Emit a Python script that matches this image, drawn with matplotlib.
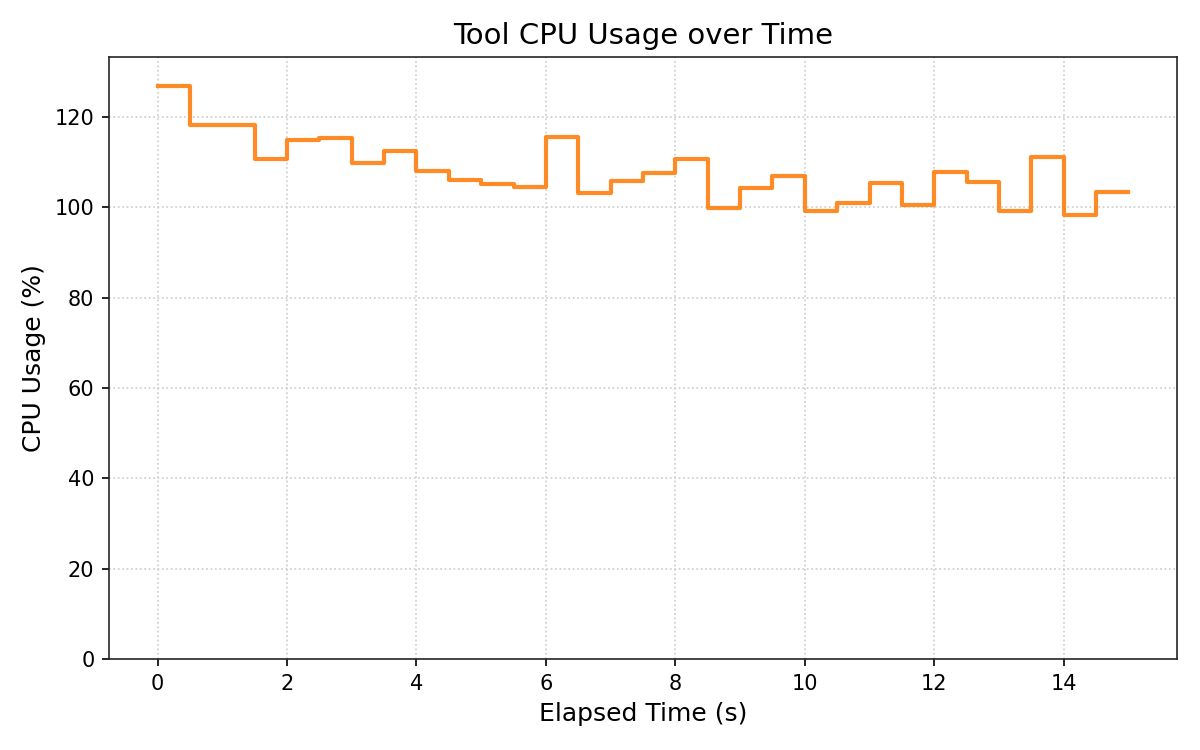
import matplotlib
matplotlib.use("Agg")
import matplotlib.pyplot as plt
import numpy as np

elapsed_s = [0.0, 0.5, 1.0, 1.5, 2.0, 2.5, 3.0, 3.5, 4.0, 4.5, 5.0, 5.5, 6.0, 6.5, 7.0,
             7.5, 8.0, 8.5, 9.0, 9.5, 10.0, 10.5, 11.0, 11.5, 12.0, 12.5, 13.0, 13.5,
             14.0, 14.5, 15.0]
cpu_pct = [126.9, 118.3, 118.3, 110.7, 114.9, 115.3, 109.8, 112.5, 108.1, 106.0, 105.1,
           104.4, 115.6, 103.1, 105.9, 107.6, 110.7, 99.8, 104.3, 106.8, 99.1, 101.0,
           105.3, 100.4, 107.9, 105.6, 99.1, 111.1, 98.3, 103.3, 103.3]

fig = plt.figure(figsize=(8, 5), dpi=150)
ax = fig.add_axes([109/1200, 1 - 659/750, (1177-109)/1200, (659-57)/750])
ax.step(elapsed_s, cpu_pct, where="post", color="#ff7f0e", alpha=0.9, linewidth=2)
ax.set_ylim(0, max(cpu_pct) * 1.05)
ax.set_title("Tool CPU Usage over Time", fontsize=14)
ax.set_xlabel("Elapsed Time (s)", fontsize=12)
ax.set_ylabel("CPU Usage (%)", fontsize=12)
ax.grid(True, linestyle=":", color="#cccccc", linewidth=0.8)
for s in ax.spines.values():
    s.set_color("#262626")
ax.tick_params(labelsize=10, colors="#000000")
fig.savefig("out.png", dpi=150)
